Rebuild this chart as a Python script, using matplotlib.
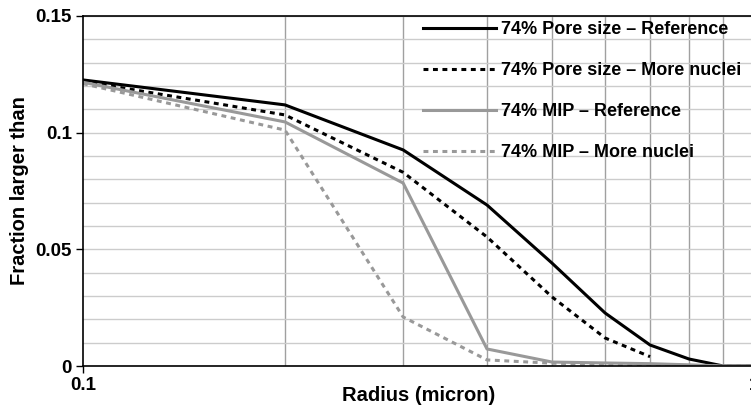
import numpy as np
import matplotlib
matplotlib.use("Agg")
import matplotlib.pyplot as plt
from matplotlib.ticker import FixedLocator, NullFormatter

plt.rcParams['font.family'] = ['Liberation Sans', 'DejaVu Sans']
plt.rcParams['font.weight'] = 'bold'

# radius (micron)
radius = [0.1, 0.2, 0.3, 0.4, 0.5, 0.6, 0.7, 0.8, 0.9, 1.0]
radius_more = [0.1, 0.2, 0.3, 0.4, 0.5, 0.6, 0.7]

pore_ref = [0.1226, 0.1119, 0.0926, 0.0690, 0.0441, 0.0227, 0.0090, 0.0030, 0.0, 0.0]
pore_more = [0.1220, 0.1076, 0.0830, 0.0553, 0.0296, 0.0120, 0.0040]
mip_ref = [0.1216, 0.1046, 0.0784, 0.0073, 0.0017, 0.0013, 0.0010, 0.0005, 0.0, 0.0]
mip_more = [0.1210, 0.1011, 0.0210, 0.0026, 0.0012, 0.0008, 0.0005, 0.0002, 0.0, 0.0]

labels = ["74% Pore size \u2013 Reference", "74% Pore size \u2013 More nuclei",
          "74% MIP \u2013 Reference", "74% MIP \u2013 More nuclei"]

fig = plt.figure(figsize=(7.51, 4.15), dpi=100)
ax = fig.add_axes([83/751, 49/415, 671/751, 350/415])

grey = '#999999'
dots = (0, (1.6, 1.5))
ax.plot(radius, pore_ref, color='black', lw=2.2, label=labels[0])
ax.plot(radius_more, pore_more, color='black', lw=2.2, ls=dots, label=labels[1])
ax.plot(radius, mip_ref, color=grey, lw=2.2, label=labels[2])
ax.plot(radius, mip_more, color=grey, lw=2.2, ls=dots, label=labels[3])

ax.set_xscale('log')
ax.set_xlim(0.1, 1.0)
ax.set_ylim(0, 0.15)

ax.xaxis.set_major_locator(FixedLocator([0.1, 1.0]))
ax.set_xticklabels(['0.1', '1'])
ax.xaxis.set_minor_locator(FixedLocator([0.2, 0.3, 0.4, 0.5, 0.6, 0.7, 0.8, 0.9]))
ax.xaxis.set_minor_formatter(NullFormatter())
ax.set_yticks([0, 0.05, 0.1, 0.15])
ax.set_yticklabels(['0', '0.05', '0.1', '0.15'])
ax.set_yticks(np.arange(0.01, 0.15, 0.01), minor=True)

ax.grid(axis='y', which='both', color='#cccccc', lw=1.0)
ax.grid(axis='x', which='minor', color='#a0a0a0', lw=1.0)
ax.set_axisbelow(True)

ax.tick_params(axis='both', which='major', direction='out', length=5, width=1,
               labelsize=13.5, pad=3)
ax.tick_params(axis='both', which='minor', length=0)
for lab in ax.get_xticklabels() + ax.get_yticklabels():
    lab.set_fontweight('bold')

for s in ['left', 'bottom', 'top']:
    ax.spines[s].set_linewidth(1.2)
ax.spines['right'].set_visible(False)

ax.set_xlabel('Radius (micron)', fontsize=14.5, fontweight='bold', labelpad=-6)
ax.set_ylabel('Fraction larger than', fontsize=14.5, fontweight='bold', labelpad=5)

leg = ax.legend(loc='upper left', bbox_to_anchor=(414/751, 1 - 12/415),
                bbox_transform=fig.transFigure, frameon=False, fontsize=13,
                handlelength=4.05, handletextpad=0.28, labelspacing=1.33, borderpad=0)
for t in leg.get_texts():
    t.set_fontweight('bold')

fig.savefig('out.png', dpi=100)
